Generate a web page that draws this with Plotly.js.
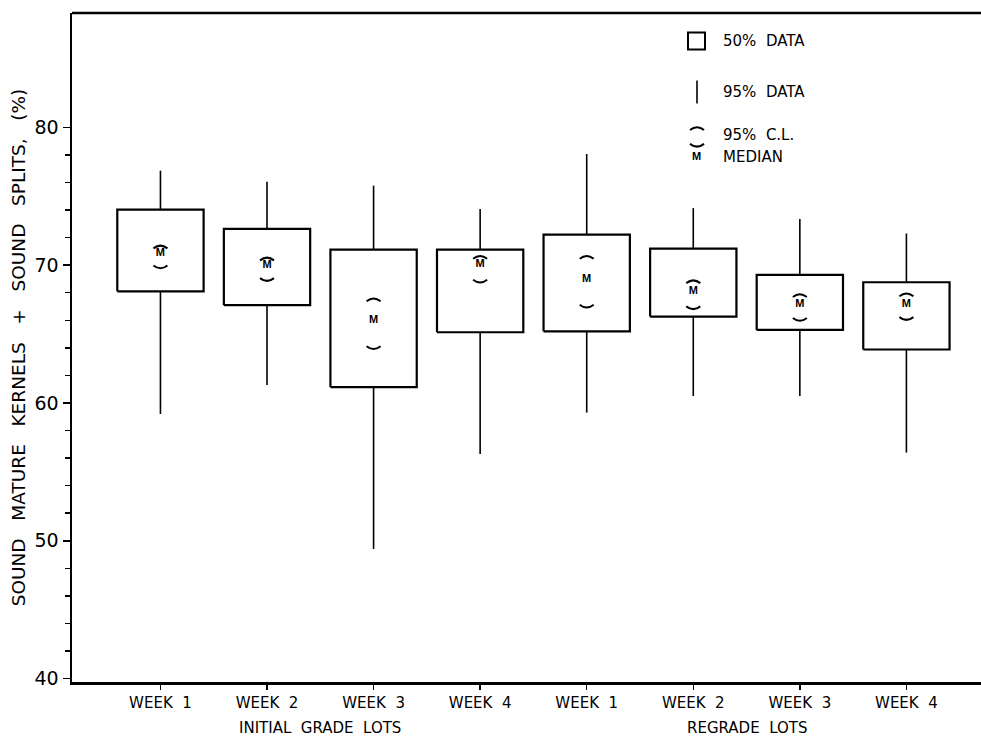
<!DOCTYPE html>
<html><head><meta charset="utf-8">
<script src="https://cdn.plot.ly/plotly-3.0.1.min.js"></script>
<style>html,body{margin:0;padding:0;background:#fff}#chart{width:981px;height:738px}</style>
</head><body><div id="chart"></div>
<script>
// ---- data ----
const weekLabels = ['WEEK 1', 'WEEK 2', 'WEEK 3', 'WEEK 4', 'WEEK 1', 'WEEK 2', 'WEEK 3', 'WEEK 4'];
const groupLabels = ['INITIAL GRADE LOTS', 'REGRADE LOTS'];
const groupCenters = [1.5, 5.5];
const lower95 = [59.2, 61.3, 49.4, 56.3, 59.3, 60.5, 60.5, 56.4];   // 95% data, lower end
const q1      = [68.1, 67.1, 61.15, 65.13, 65.2, 66.27, 65.3, 63.88];
const median  = [70.9, 69.97, 65.98, 70.04, 68.96, 68.1, 67.14, 67.19];
const q3      = [74.03, 72.63, 71.13, 71.13, 72.22, 71.2, 69.3, 68.76];
const upper95 = [76.86, 76.06, 75.77, 74.08, 78.07, 74.14, 73.35, 72.3];   // 95% data, upper end
const clLow   = [69.8, 68.88, 63.93, 68.76, 66.95, 66.83, 65.98, 66.05];
const clHigh  = [71.4, 70.53, 67.56, 70.65, 70.65, 68.88, 67.87, 67.92];
const yMajorTicks = [40, 50, 60, 70, 80];
const yMinorTicks = [42, 44, 46, 48, 52, 54, 56, 58, 62, 64, 66, 68, 72, 74, 76, 78];

// ---- styling ----
const FONT = 'DejaVu Sans, Arial, sans-serif';
const boxWidth = 0.81;
const xs = weekLabels.map((_, i) => i);

const bx = [], by = [], wx = [], wy = [];
xs.forEach((x, i) => {
  bx.push(x - boxWidth / 2, x + boxWidth / 2, x + boxWidth / 2, x - boxWidth / 2, x - boxWidth / 2, null);
  by.push(q1[i], q1[i], q3[i], q3[i], q1[i], null);
  wx.push(x, x, null, x, x, null);
  wy.push(q3[i], upper95[i], null, q1[i], lower95[i], null);
});

const traces = [
  {type: 'scatter', mode: 'lines', x: wx, y: wy, line: {color: '#000', width: 1.6}, hoverinfo: 'skip', showlegend: false, cliponaxis: false},
  {type: 'scatter', mode: 'lines', x: bx, y: by, line: {color: '#000', width: 2.2}, hoverinfo: 'skip', showlegend: false},
  {type: 'scatter', mode: 'text', x: xs, y: median, text: xs.map(() => '<b>M</b>'),
   textposition: 'middle center', textfont: {family: 'Liberation Sans, Arial', size: 11, color: '#000'}, showlegend: false}
];

const shapes = [];
const upperArc = 'M-7,-2.5 Q0,3 7,-2.5';
const lowerArc = 'M-7,2.5 Q0,-3 7,2.5';
xs.forEach((x, i) => {
  shapes.push({type: 'path', xref: 'x', yref: 'y', xsizemode: 'pixel', ysizemode: 'pixel',
    xanchor: x, yanchor: clHigh[i], path: upperArc, line: {color: '#000', width: 2}});
  shapes.push({type: 'path', xref: 'x', yref: 'y', xsizemode: 'pixel', ysizemode: 'pixel',
    xanchor: x, yanchor: clLow[i], path: lowerArc, line: {color: '#000', width: 2}});
});

// frame top line + legend key (paper coords)
const L = 72, T = 12.5, H = 669.5, R = 0;
const W = 981 - L - R;
const px = v => (v - L) / W;
const py = v => (T + H - v) / H;
shapes.push({type: 'line', xref: 'paper', yref: 'paper', x0: 0, x1: 1, y0: 1, y1: 1, line: {color: '#000', width: 2.5}});
shapes.push({type: 'rect', xref: 'paper', yref: 'paper', x0: px(688), x1: px(705), y0: py(49), y1: py(32), line: {color: '#000', width: 2}});
shapes.push({type: 'line', xref: 'paper', yref: 'paper', x0: px(697), x1: px(697), y0: py(103), y1: py(80), line: {color: '#000', width: 1.6}});
shapes.push({type: 'path', xref: 'paper', yref: 'paper', xsizemode: 'pixel', ysizemode: 'pixel', xanchor: px(697), yanchor: py(127), path: upperArc, line: {color: '#000', width: 2}});
shapes.push({type: 'path', xref: 'paper', yref: 'paper', xsizemode: 'pixel', ysizemode: 'pixel', xanchor: px(697), yanchor: py(146), path: lowerArc, line: {color: '#000', width: 2}});

const nb = '\u00A0';
const legendTexts = ['50%' + nb + nb + 'DATA', '95%' + nb + nb + 'DATA', '95%' + nb + nb + 'C.L.', 'MEDIAN'];
const legendY = [40.7, 91.7, 135, 156.7];
const annotations = legendTexts.map((t, k) => ({
  xref: 'paper', yref: 'paper', x: px(721), y: py(legendY[k]), xanchor: 'left', yanchor: 'middle',
  text: t, showarrow: false, font: {family: FONT, size: 15, color: '#000'}
}));
annotations.push({xref: 'paper', yref: 'paper', x: px(696), y: py(156), xanchor: 'center', yanchor: 'middle',
  text: '<b>M</b>', showarrow: false, font: {family: 'Liberation Sans, Arial', size: 11, color: '#000'}});
groupLabels.forEach((g, k) => annotations.push({
  xref: 'x', yref: 'paper', x: groupCenters[k], y: py(728.5), xanchor: 'center', yanchor: 'middle',
  text: g.split(' ').join(nb + nb), showarrow: false, font: {family: FONT, size: 15, color: '#000'}
}));

const layout = {
  width: 981, height: 738,
  margin: {l: L, r: R, t: T, b: 738 - T - H, pad: 0},
  paper_bgcolor: '#fff', plot_bgcolor: '#fff',
  font: {family: FONT, color: '#000'},
  showlegend: false,
  xaxis: {
    range: [-0.83, 7.7], tickmode: 'array', tickvals: xs, ticktext: weekLabels.map(s => s.replace(' ', nb + nb)),
    showline: true, mirror: false, linecolor: '#000', linewidth: 2.5,
    ticks: 'outside', ticklen: 5, tickwidth: 1.5, tickcolor: '#000',
    showgrid: false, zeroline: false, tickfont: {family: FONT, size: 15, color: '#000'}
  },
  yaxis: {
    range: [39.75, 88.3], tickmode: 'array', tickvals: yMajorTicks,
    showline: true, mirror: false, linecolor: '#000', linewidth: 2.5,
    ticks: 'outside', ticklen: 7, tickwidth: 1.5, tickcolor: '#000',
    minor: {tickmode: 'array', tickvals: yMinorTicks, ticks: 'outside', ticklen: 5, tickwidth: 1.5, tickcolor: '#000', showgrid: false},
    showgrid: false, zeroline: false, tickfont: {family: FONT, size: 19, color: '#000'},
    title: {text: ['SOUND', 'MATURE', 'KERNELS', '+', 'SOUND', 'SPLITS,', '(%)'].join(nb + nb + nb), standoff: 4,
            font: {family: FONT, size: 18.5, color: '#000'}}
  },
  shapes: shapes,
  annotations: annotations
};

Plotly.newPlot('chart', traces, layout, {displayModeBar: false, staticPlot: true});
</script>
</body></html>
